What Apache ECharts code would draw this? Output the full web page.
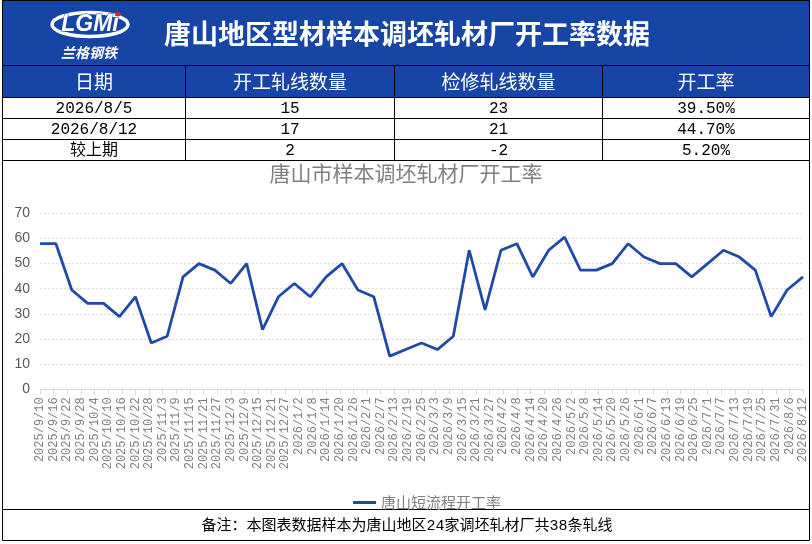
<!DOCTYPE html>
<html>
<head>
<meta charset="utf-8">
<title>唐山地区型材样本调坯轧材厂开工率数据</title>
<script src="https://cdn.jsdelivr.net/npm/echarts@6/dist/echarts.min.js"></script>
<style>
  html, body { margin: 0; padding: 0; background: #fff; }
  #main { width: 812px; height: 544px; }
</style>
</head>
<body>
<div id="main"></div>
<script type="text/javascript">
// weekly sample dates and operating rate (%)
var weekDates = [
  '2025/9/10', '2025/9/17', '2025/9/24', '2025/10/1', '2025/10/8', '2025/10/15', '2025/10/22',
  '2025/10/29', '2025/11/5', '2025/11/12', '2025/11/19', '2025/11/26', '2025/12/3', '2025/12/10',
  '2025/12/17', '2025/12/24', '2025/12/31', '2026/1/7', '2026/1/14', '2026/1/21', '2026/1/28',
  '2026/2/4', '2026/2/11', '2026/2/18', '2026/2/25', '2026/3/4', '2026/3/11', '2026/3/18',
  '2026/3/25', '2026/4/1', '2026/4/8', '2026/4/15', '2026/4/22', '2026/4/29', '2026/5/6',
  '2026/5/13', '2026/5/20', '2026/5/27', '2026/6/3', '2026/6/10', '2026/6/17', '2026/6/24',
  '2026/7/1', '2026/7/8', '2026/7/15', '2026/7/22', '2026/7/29', '2026/8/5', '2026/8/12'
];
var rateValues = [
  57.9, 57.9, 39.5, 34.2, 34.2, 28.9, 36.8, 18.4, 21.1, 44.7, 50.0, 47.4, 42.1, 50.0,
  23.7, 36.8, 42.1, 36.8, 44.7, 50.0, 39.5, 36.8, 13.2, 15.8, 18.4, 15.8, 21.1, 55.3,
  31.6, 55.3, 57.9, 44.7, 55.3, 60.5, 47.4, 47.4, 50.0, 57.9, 52.6, 50.0, 50.0, 44.7,
  50.0, 55.3, 52.6, 47.4, 28.9, 39.5, 44.7
];
// x axis tick labels, one every 6 days
var tickLabels = [
  '2025/9/10', '2025/9/16', '2025/9/22', '2025/9/28', '2025/10/4', '2025/10/10', '2025/10/16',
  '2025/10/22', '2025/10/28', '2025/11/3', '2025/11/9', '2025/11/15', '2025/11/21', '2025/11/27',
  '2025/12/3', '2025/12/9', '2025/12/15', '2025/12/21', '2025/12/27', '2026/1/2', '2026/1/8',
  '2026/1/14', '2026/1/20', '2026/1/26', '2026/2/1', '2026/2/7', '2026/2/13', '2026/2/19',
  '2026/2/25', '2026/3/3', '2026/3/9', '2026/3/15', '2026/3/21', '2026/3/27', '2026/4/2',
  '2026/4/8', '2026/4/14', '2026/4/20', '2026/4/26', '2026/5/2', '2026/5/8', '2026/5/14',
  '2026/5/20', '2026/5/26', '2026/6/1', '2026/6/7', '2026/6/13', '2026/6/19', '2026/6/25',
  '2026/7/1', '2026/7/7', '2026/7/13', '2026/7/19', '2026/7/25', '2026/7/31', '2026/8/6',
  '2026/8/12'
];
var yTicks = [0, 10, 20, 30, 40, 50, 60, 70];
var tableHead = ['日期', '开工轧线数量', '检修轧线数量', '开工率'];
var tableRows = [
  ['2026/8/5', '15', '23', '39.50%'],
  ['2026/8/12', '17', '21', '44.70%'],
  ['较上期', '2', '-2', '5.20%']
];
var seriesName = '唐山短流程开工率';
var headTitle = '唐山地区型材样本调坯轧材厂开工率数据';
var chartTitle = '唐山市样本调坯轧材厂开工率';
var footNote = '备注：本图表数据样本为唐山地区24家调坯轧材厂共38条轧线';

var BLUE = '#1645a6';
var CJK = '"Noto Sans CJK SC", sans-serif';
var MONO = '"Liberation Mono", "Noto Sans CJK SC", monospace';

function dayIndex(s) {
  var p = s.split('/').map(Number);
  return Date.UTC(p[0], p[1] - 1, p[2]) / 86400000;
}
var day0 = dayIndex(tickLabels[0]);
var lineData = weekDates.map(function (d, i) {
  return [dayIndex(d) - day0, rateValues[i]];
});
var dayMax = dayIndex(tickLabels[tickLabels.length - 1]) - day0;

// header, table and footer drawn with graphic elements
var colX = [2.5, 185.5, 394.5, 602.5, 809.5];
var rowY = [65.5, 97.5, 118.5, 139.5, 160.5];
var graphics = [];
graphics.push({ type: 'rect', shape: { x: 2.5, y: 0, width: 807, height: 65.5 }, style: { fill: BLUE } });
graphics.push({ type: 'rect', shape: { x: 2.5, y: 65.5, width: 807, height: 32 }, style: { fill: BLUE } });

// logo
graphics.push({ type: 'ellipse', shape: { cx: 90, cy: 24.5, rx: 38, ry: 12 }, style: { fill: 'none', stroke: '#fff', lineWidth: 3.5 } });
graphics.push({ type: 'text', x: 90, y: 25, style: { text: 'LGMi', fill: '#fff', stroke: BLUE, lineWidth: 1, font: 'italic bold 23px "Liberation Sans", Arial', align: 'center', verticalAlign: 'middle' } });
graphics.push({ type: 'circle', shape: { cx: 118, cy: 14, r: 2.5 }, style: { fill: '#e02020' } });
graphics.push({ type: 'text', x: 89, y: 52.5, style: { text: '兰格钢铁', fill: '#fff', font: 'italic bold 14px ' + CJK, align: 'center', verticalAlign: 'middle' } });

graphics.push({ type: 'text', x: 407, y: 34, style: { text: headTitle, fill: '#fff', font: 'bold 27px ' + CJK, align: 'center', verticalAlign: 'middle' } });

tableHead.forEach(function (h, c) {
  graphics.push({ type: 'text', x: (colX[c] + colX[c + 1]) / 2, y: 82, style: { text: h, fill: '#fff', font: '19px ' + CJK, align: 'center', verticalAlign: 'middle' } });
});
tableRows.forEach(function (row, r) {
  row.forEach(function (cell, c) {
    graphics.push({ type: 'text', x: (colX[c] + colX[c + 1]) / 2, y: (rowY[r + 1] + rowY[r + 2]) / 2 + 0.5, style: { text: cell, fill: '#000', font: '16px ' + MONO, align: 'center', verticalAlign: 'middle' } });
  });
});

// grid lines of the table and outer frame
var lineStyle = { stroke: '#000', lineWidth: 1 };
rowY.forEach(function (y) {
  graphics.push({ type: 'line', shape: { x1: 2.5, y1: y, x2: 809.5, y2: y }, style: lineStyle });
});
colX.slice(1, 4).forEach(function (x) {
  graphics.push({ type: 'line', shape: { x1: x, y1: 65.5, x2: x, y2: 160.5 }, style: lineStyle });
});
graphics.push({ type: 'line', shape: { x1: 2.5, y1: 509.5, x2: 809.5, y2: 509.5 }, style: lineStyle });
graphics.push({ type: 'rect', shape: { x: 2.5, y: 0.5, width: 807, height: 540 }, style: { fill: 'none', stroke: '#000', lineWidth: 1 } });

graphics.push({ type: 'text', x: 407, y: 526, style: { text: footNote, fill: '#000', font: '15px ' + MONO, align: 'center', verticalAlign: 'middle' } });

var myChart = echarts.init(document.getElementById('main'));
var option = {
  animation: false,
  title: {
    text: chartTitle,
    left: 'center',
    top: 158,
    textStyle: { color: '#808080', fontSize: 21, fontWeight: 'normal', fontFamily: CJK }
  },
  legend: {
    data: [seriesName],
    left: 348,
    top: 490,
    icon: 'rect',
    itemWidth: 23,
    itemHeight: 3,
    itemGap: 4,
    textStyle: { color: '#808080', fontSize: 15, fontFamily: CJK }
  },
  grid: {
    left: 40,
    right: 9,
    top: 213.3,
    bottom: 154.7,
    containLabel: false
  },
  xAxis: {
    type: 'value',
    min: 0,
    max: dayMax,
    interval: 6,
    axisLine: { lineStyle: { color: '#d9d9d9' } },
    axisTick: { show: true, length: 5, lineStyle: { color: '#d9d9d9' } },
    splitLine: { show: false },
    axisLabel: {
      rotate: 90,
      margin: 8,
      color: '#7f7f7f',
      fontSize: 12,
      fontFamily: '"Liberation Mono", monospace',
      showMinLabel: true,
      showMaxLabel: true,
      formatter: function (v) { return tickLabels[Math.round(v / 6)] || ''; }
    }
  },
  yAxis: {
    type: 'value',
    min: yTicks[0],
    max: yTicks[yTicks.length - 1],
    interval: yTicks[1] - yTicks[0],
    axisLine: { show: false },
    axisTick: { show: false },
    splitLine: { lineStyle: { color: '#d9d9d9', type: [2, 2] } },
    axisLabel: { color: '#595959', fontSize: 14, margin: 10, fontFamily: '"Liberation Sans", Arial' }
  },
  series: [{
    name: seriesName,
    type: 'line',
    data: lineData,
    symbol: 'none',
    lineStyle: { color: '#1f4aa8', width: 2.8 },
    itemStyle: { color: '#1f4aa8' }
  }],
  graphic: graphics
};
myChart.setOption(option);
</script>
</body>
</html>
